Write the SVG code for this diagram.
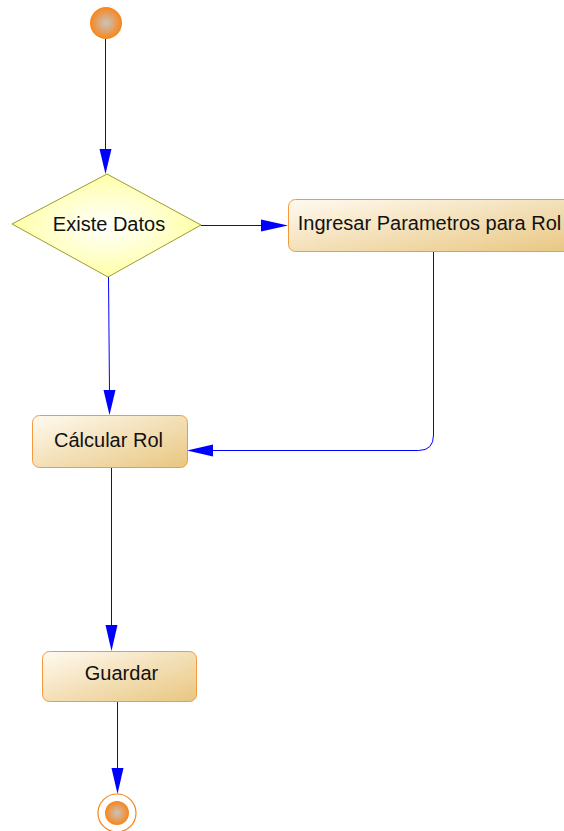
<svg xmlns="http://www.w3.org/2000/svg" width="564" height="831" viewBox="0 0 564 831">
<style>
.box{stroke:#f59a3c;stroke-width:1;fill:url(#boxg)}
.lbl{font-family:"Liberation Sans",Arial,sans-serif;font-size:20px;fill:#111;text-anchor:middle}
.ln{stroke:#0000ff;stroke-width:1;fill:none}
.ah{fill:#0000ff;stroke:none}
</style>
<defs>
<linearGradient id="boxg" x1="0" y1="0" x2="1" y2="1">
<stop offset="0" stop-color="#fffaf0"/>
<stop offset="1" stop-color="#e8c680"/>
</linearGradient>
<radialGradient id="circg" cx="0.5" cy="0.5" r="0.5">
<stop offset="0" stop-color="#c8c4c0"/>
<stop offset="1" stop-color="#f8851a"/>
</radialGradient>
<radialGradient id="diag" cx="0.5" cy="0.5" r="0.5">
<stop offset="0" stop-color="#ffffff"/>
<stop offset="1" stop-color="#ffffa8"/>
</radialGradient>
</defs>
<g id="connectors">
<line class="ln" x1="105.5" y1="39" x2="105.5" y2="150"/>
<polygon class="ah" points="99.5,149 111.5,149 105.5,174"/>
<line class="ln" x1="201" y1="225.5" x2="262" y2="225.5"/>
<polygon class="ah" points="261,219.5 261,231.5 288,225.5"/>
<path class="ln" d="M433.5,252 V435 Q433.5,450.5 418.5,450.5 H212"/>
<polygon class="ah" points="213,444.5 213,456.5 187,450.5"/>
<line class="ln" x1="108.5" y1="277" x2="109.5" y2="392"/>
<polygon class="ah" points="103.5,390 115.5,390 109.5,415"/>
<line class="ln" x1="111.5" y1="467" x2="111.5" y2="627" stroke="#0000d8"/>
<polygon class="ah" points="105.5,625 117.5,625 111.5,651"/>
<line class="ln" x1="117.5" y1="701" x2="117.5" y2="770"/>
<polygon class="ah" points="111.5,768 123.5,768 117.5,794"/>
</g>
<g id="start">
<circle cx="106" cy="23" r="16" fill="url(#circg)"/>
</g>
<g id="existe">
<polygon points="107,174 201,225 108,277 12,224" fill="url(#diag)" stroke="#9c9c30" stroke-width="1"/>
<text class="lbl" x="109" y="231">Existe Datos</text>
</g>
<g id="ingresar">
<rect class="box" x="288.5" y="199.5" width="290" height="52" rx="7"/>
<text class="lbl" x="429.5" y="230">Ingresar Parametros para Rol</text>
</g>
<g id="calcular">
<rect class="box" x="32.5" y="415.5" width="155" height="52" rx="7"/>
<text class="lbl" x="108.5" y="447">Cálcular Rol</text>
</g>
<g id="guardar">
<rect class="box" x="42.5" y="651.5" width="154" height="50" rx="7"/>
<text class="lbl" x="121.5" y="680">Guardar</text>
</g>
<g id="end">
<circle cx="117" cy="813" r="19" fill="#ffffff" stroke="#f8851a" stroke-width="1.2"/>
<circle cx="117" cy="813" r="12" fill="url(#circg)"/>
</g>
</svg>
